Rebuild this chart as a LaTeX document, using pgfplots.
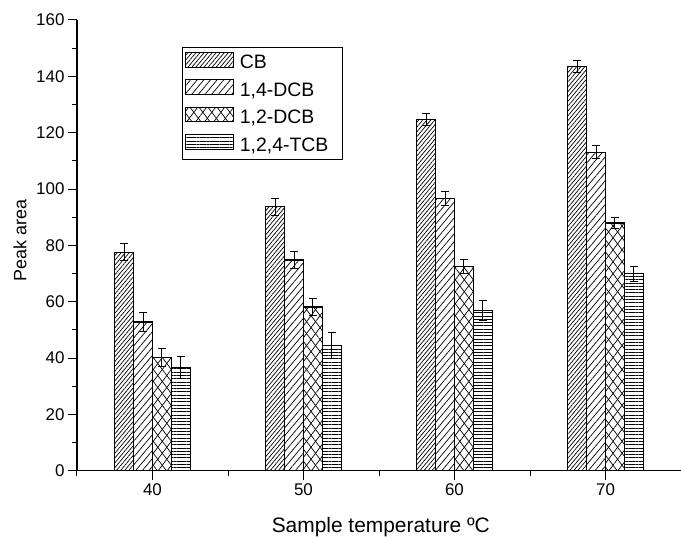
\documentclass[border=0pt]{standalone}
\usepackage{fontspec}
\setmainfont{Liberation Sans}
\usepackage{pgfplots}
\pgfplotsset{compat=1.18}
\usetikzlibrary{patterns.meta}
\begin{document}
\begin{tikzpicture}
\begin{axis}[
  scale only axis, width=604bp, height=450.7bp,
  xmin=35, xmax=75, ymin=0, ymax=160, enlargelimits=false,
  axis lines=left, axis line style={-, line width=1.2bp},
  xtick={40,50,60,70}, minor xtick={35,45,55,65,75},
  ytick={0,20,...,160}, minor ytick={10,30,...,150},
  tick align=outside, major tick length=9bp, minor tick length=5bp,
  every tick/.style={black, line width=1bp},
  tick label style={font=\fontsize{17}{20}\selectfont},
  /pgf/number format/assume math mode=true,
  ylabel={Peak area}, xlabel={Sample temperature ºC},
  every axis y label/.style={at={(axis description cs:0,0.51)}, xshift=-57bp, rotate=90, anchor=center, font=\fontsize{18}{22}\selectfont},
  every axis x label/.style={at={(axis description cs:0.503,0)}, yshift=-62bp, anchor=base, font=\fontsize{21}{24}\selectfont},
  ybar=0pt, bar width=1.25,
  error bars/y dir=both, error bars/y explicit,
  error bars/error bar style={line width=0.9bp, draw=black, solid},
  error bars/error mark options={rotate=90, mark size=3.8bp, line width=0.9bp, draw=black},
  legend style={at={(axis description cs:0.1733,0.940)}, anchor=north west, draw=black, line width=1bp,
    inner xsep=2.3bp, inner ysep=2.2bp, font=\fontsize{19.5}{22}\selectfont, row sep=2.2bp,
    cells={anchor=base west},
    /tikz/every odd column/.append style={column sep=5.6bp}, nodes={inner sep=0pt}},
  legend image code/.code={\path (0bp,-5.5bp) (0bp,18.5bp); \draw[#1, line width=1bp] (0bp,1.7bp) rectangle (48.7bp,16.4bp);},
]
\addplot[draw=black, line width=1.2bp, bar shift=-1.875,
  pattern={Lines[angle=50,distance=3.1bp,line width=0.7bp]}]
  coordinates {(40,77.5) +- (0,3) (50,93.7) +- (0,3) (60,124.7) +- (0,2.2) (70,143.5) +- (0,2.1)};
\addlegendentry{\makebox[100bp][l]{CB}}
\addplot[draw=black, line width=1.2bp, bar shift=-0.625,
  pattern={Lines[angle=50,distance=5.1bp,line width=0.7bp]}]
  coordinates {(40,52.8) +- (0,3.5) (50,74.8) +- (0,3) (60,96.7) +- (0,2.4) (70,113.1) +- (0,2.2)};
\addlegendentry{1,4-DCB}
\addplot[draw=black, line width=1.2bp, bar shift=0.625,
  pattern={Lines[angle=53,distance=7.2bp,line width=0.7bp]},
  postaction={pattern={Lines[angle=-53,distance=7.2bp,line width=0.7bp]}}]
  coordinates {(40,40.2) +- (0,3.2) (50,58.1) +- (0,3) (60,72.5) +- (0,2.5) (70,87.9) +- (0,2)};
\addlegendentry{1,2-DCB}
\addplot[draw=black, line width=1.2bp, bar shift=1.875,
  pattern={Lines[angle=0,distance=3.3bp,line width=0.7bp]}]
  coordinates {(40,36.7) +- (0,4) (50,44.5) +- (0,4.5) (60,57) +- (0,3.5) (70,69.9) +- (0,2.7)};
\addlegendentry{1,2,4-TCB}
\end{axis}
\pgfresetboundingbox
\path[use as bounding box] (-77bp,-66.3bp) rectangle (604bp,470.7bp);
\end{tikzpicture}
\end{document}
